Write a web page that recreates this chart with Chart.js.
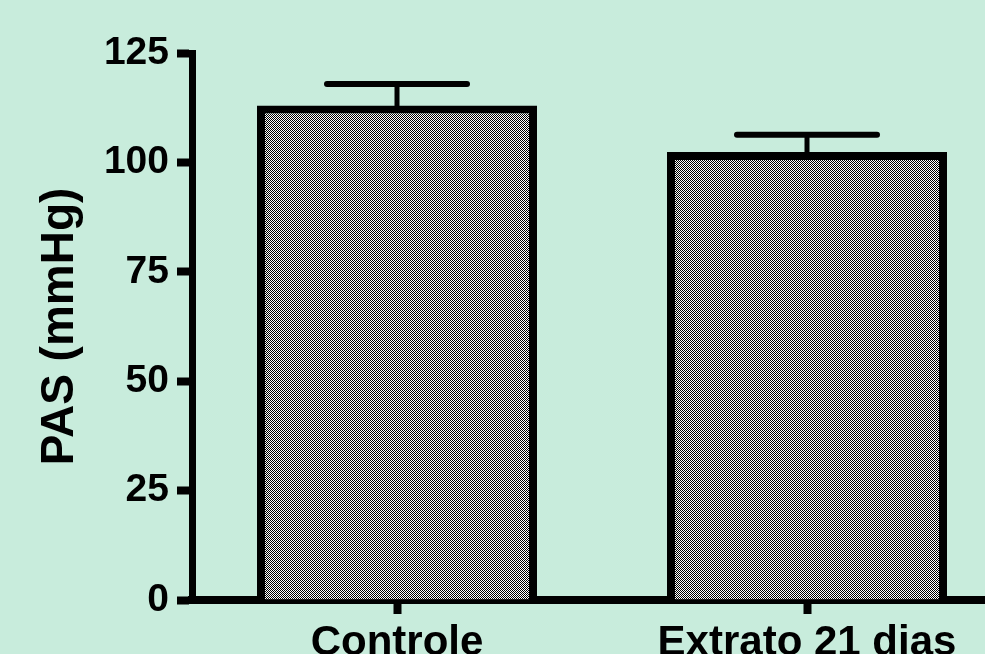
<!DOCTYPE html>
<html>
<head>
<meta charset="utf-8">
<script src="https://cdn.jsdelivr.net/npm/chart.js@4.4.1/dist/chart.umd.min.js"></script>
<style>
  html, body { margin: 0; padding: 0; background: #c8ecdc; overflow: hidden; width: 985px; height: 654px; }
  canvas { display: block; }
</style>
</head>
<body>
<canvas id="pas" width="1020" height="690"></canvas>
<script>
var groups = ["Controle", "Extrato 21 dias"];
var pasMean = [113, 102.4];
var pasErr = [4.9, 3.9];
var yTicks = [0, 25, 50, 75, 100, 125];

function checkerPattern() {
    var p = document.createElement("canvas");
    p.width = 2;
    p.height = 2;
    var g = p.getContext("2d");
    g.fillStyle = "#ffffff";
    g.fillRect(0, 0, 2, 2);
    g.fillStyle = "#000000";
    g.fillRect(0, 0, 1, 1);
    g.fillRect(1, 1, 1, 1);
    return g.createPattern(p, "repeat");
}

var errorBars = {
    id: "errorBars",
    afterDatasetsDraw: function (chart) {
        var ctx = chart.ctx;
        var meta = chart.getDatasetMeta(0);
        var y = chart.scales.y;
        ctx.save();
        ctx.strokeStyle = "#000";
        meta.data.forEach(function (bar, i) {
            var top = y.getPixelForValue(pasMean[i] + pasErr[i]);
            var base = y.getPixelForValue(pasMean[i]);
            var half = bar.width / 4;
            ctx.lineWidth = 5;
            ctx.beginPath();
            ctx.moveTo(bar.x, base + 2);
            ctx.lineTo(bar.x, top);
            ctx.stroke();
            ctx.lineWidth = 6;
            ctx.lineCap = "round";
            ctx.beginPath();
            ctx.moveTo(bar.x - half, top);
            ctx.lineTo(bar.x + half, top);
            ctx.stroke();
            ctx.lineCap = "butt";
        });
        ctx.restore();
    }
};

var font = "'Liberation Sans', Arial, sans-serif";

new Chart(document.getElementById("pas"), {
    type: "bar",
    data: {
        labels: groups,
        datasets: [{
            label: "PAS",
            data: pasMean,
            backgroundColor: checkerPattern(),
            borderColor: "#000",
            borderWidth: 8,
            barPercentage: 0.683,
            categoryPercentage: 1
        }]
    },
    options: {
        responsive: false,
        animation: false,
        layout: { padding: { top: 53, right: 8, left: 0, bottom: 0 } },
        plugins: {
            legend: { display: false },
            tooltip: { enabled: false }
        },
        scales: {
            x: {
                offset: true,
                grid: {
                    offset: false,
                    drawOnChartArea: false,
                    tickLength: 14,
                    tickWidth: 8,
                    tickColor: "#000"
                },
                border: { display: true, color: "#000", width: 8 },
                ticks: {
                    color: "#000",
                    padding: 4,
                    maxRotation: 0,
                    font: { family: font, size: 42, weight: "bold" }
                },
                afterFit: function (s) { s.height = 90; }
            },
            y: {
                min: 0,
                max: 125,
                afterBuildTicks: function (s) {
                    s.ticks = yTicks.map(function (v) { return { value: v }; });
                },
                grid: {
                    drawOnChartArea: false,
                    tickLength: 15,
                    tickWidth: 8,
                    tickColor: "#000"
                },
                border: { display: true, color: "#000", width: 7 },
                ticks: {
                    color: "#000",
                    padding: 8,
                    font: { family: font, size: 39, weight: "bold" }
                },
                title: {
                    display: true,
                    text: "PAS (mmHg)",
                    color: "#000",
                    padding: { top: 33, bottom: 0 },
                    font: { family: font, size: 46, weight: "bold" }
                },
                afterFit: function (s) { s.width = 192; }
            }
        }
    },
    plugins: [errorBars]
});
</script>
</body>
</html>
